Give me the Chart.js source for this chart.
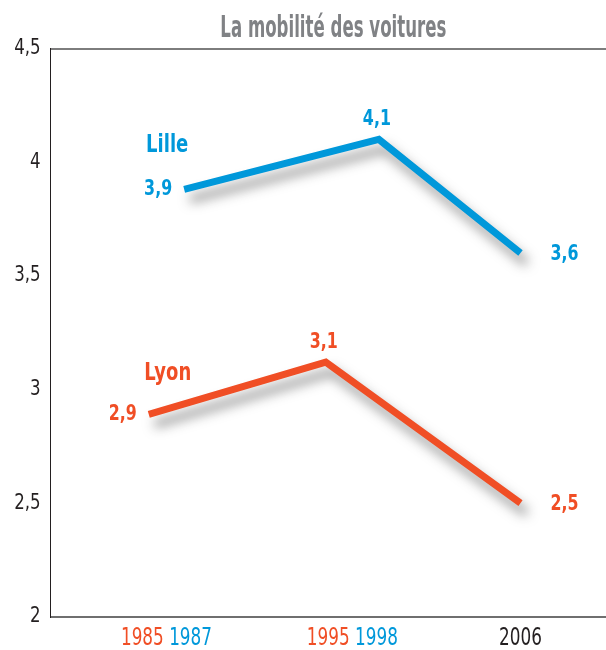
<!DOCTYPE html>
<html lang="fr">
<head>
<meta charset="utf-8">
<title>La mobilité des voitures</title>
<script src="https://cdn.jsdelivr.net/npm/chart.js@4.4.1/dist/chart.umd.min.js"></script>
<style>
  html, body { margin: 0; padding: 0; background: #fff; }
  #wrap { width: 606px; height: 650px; position: relative; }
</style>
</head>
<body>
<div id="wrap"><canvas id="chart"></canvas></div>
<script>
// Mobilité des voitures (déplacements / personne / jour) — Lille vs Lyon.
// The two surveys were not run the same years, so x is a linear year axis.

const TITLE = "La mobilité des voitures";

const lilleYears  = [1987, 1998, 2006];
const lilleValues = [3.88, 4.10, 3.60];
const lilleLabels = ["3,9", "4,1", "3,6"];

const lyonYears  = [1985, 1995, 2006];
const lyonValues = [2.89, 3.12, 2.50];
const lyonLabels = ["2,9", "3,1", "2,5"];

// x tick labels, grouped the way the original prints them ("1985 1987")
const tickYears  = [1985, 1987, 1995, 1998, 2006];
const tickGroups = [[0, 1], [2, 3], [4]];

const BLUE = "#0098da";
const RED = "#f04e25";
const INK = "#231f20";
const tickColors = [RED, BLUE, RED, BLUE, INK];

const FONT = '"Liberation Sans Narrow", "DejaVu Sans Condensed", "Roboto Condensed", sans-serif';
// the original uses a very condensed face; squeeze the glyphs horizontally
const SQUEEZE = 0.8;

// where each value label sits relative to its point
const LABEL_POS = ["left", "top", "right"];

const SERIES = [
  { name: "Lille", years: lilleYears, values: lilleValues, labels: lilleLabels,
    color: BLUE, nameDx: -17, nameDy: -44 },
  { name: "Lyon", years: lyonYears, values: lyonValues, labels: lyonLabels,
    color: RED, nameDx: 19, nameDy: -41 },
];

function squeezed(ctx, text, x, y, align, sq = SQUEEZE) {
  ctx.save();
  ctx.translate(x, y);
  ctx.scale(sq, 1);
  ctx.textAlign = align;
  ctx.fillText(text, 0, 0);
  ctx.restore();
}

// grey drop shadow under the two lines only
const shadowPlugin = {
  id: "lineShadow",
  beforeDatasetDraw(chart) {
    const ctx = chart.ctx;
    ctx.save();
    ctx.shadowColor = "rgba(40, 40, 40, 0.5)";
    ctx.shadowBlur = 12;
    ctx.shadowOffsetX = 6;
    ctx.shadowOffsetY = 10;
  },
  afterDatasetDraw(chart) {
    chart.ctx.restore();
  },
};

const annotatePlugin = {
  id: "annotate",
  afterDraw(chart) {
    const ctx = chart.ctx;
    const area = chart.chartArea;
    const x = chart.scales.x;
    const y = chart.scales.y;

    // title, fitted to the width of the condensed original
    ctx.save();
    ctx.font = `bold 30px ${FONT}`;
    ctx.fillStyle = "#808285";
    ctx.textBaseline = "alphabetic";
    const tw = ctx.measureText(TITLE).width;
    squeezed(ctx, TITLE, (area.left + area.right) / 2 + 5, 36.5, "center", Math.min(1, 226 / tw));
    ctx.restore();

    // y tick labels, from the scale's own ticks
    ctx.save();
    ctx.font = `21px ${FONT}`;
    ctx.fillStyle = INK;
    ctx.textBaseline = "middle";
    for (const t of y.ticks) {
      squeezed(ctx, String(t.value).replace(".", ","), area.left - 10,
        y.getPixelForValue(t.value), "right", 0.88);
    }
    ctx.restore();

    // value labels + series names
    SERIES.forEach((s, di) => {
      const pts = chart.getDatasetMeta(di).data;
      ctx.save();
      ctx.fillStyle = s.color;
      ctx.font = `bold 22px ${FONT}`;
      ctx.textBaseline = "middle";
      pts.forEach((p, i) => {
        const pos = LABEL_POS[i];
        if (pos === "left") squeezed(ctx, s.labels[i], p.x - 12, p.y, "right");
        else if (pos === "right") squeezed(ctx, s.labels[i], p.x + 30, p.y + 1, "left");
        else squeezed(ctx, s.labels[i], p.x - 2, p.y - 20, "center");
      });
      ctx.font = `bold 25px ${FONT}`;
      squeezed(ctx, s.name, pts[0].x + s.nameDx, pts[0].y + s.nameDy, "center");
      ctx.restore();
    });

    // year labels under the axis, each group centred under its points
    ctx.save();
    ctx.font = `24px ${FONT}`;
    ctx.textBaseline = "middle";
    const sq = 0.78;
    const space = ctx.measureText(" ").width * sq;
    const ty = area.bottom + 22;
    for (const g of tickGroups) {
      const texts = g.map((i) => String(tickYears[i]));
      const widths = texts.map((t) => ctx.measureText(t).width * sq);
      const total = widths.reduce((a, b) => a + b, 0) + space * (texts.length - 1);
      const mid = g.reduce((a, i) => a + x.getPixelForValue(tickYears[i]), 0) / g.length;
      let cx = mid - total / 2;
      g.forEach((i, k) => {
        ctx.fillStyle = tickColors[i];
        squeezed(ctx, texts[k], cx, ty, "left", sq);
        cx += widths[k] + space;
      });
    }
    ctx.restore();
  },
};

const datasets = SERIES.map((s) => ({
  label: s.name,
  data: s.years.map((yr, i) => ({ x: yr, y: s.values[i] })),
  borderColor: s.color,
  backgroundColor: s.color,
  borderWidth: 7,
  borderCapStyle: "butt",
  borderJoinStyle: "miter",
  tension: 0,
  fill: false,
  pointRadius: 0,
  pointHoverRadius: 0,
}));

new Chart(document.getElementById("chart").getContext("2d"), {
  type: "line",
  data: { datasets },
  options: {
    responsive: true,
    maintainAspectRatio: false,
    animation: false,
    layout: { padding: { top: 48.5, left: 0, right: 0, bottom: 0 } },
    plugins: {
      legend: { display: false },
      title: { display: false },
      tooltip: { enabled: false },
    },
    scales: {
      x: {
        type: "linear",
        min: 1979.46,
        max: 2010.83,
        grid: { display: false, drawTicks: false },
        border: { display: true, color: "#6f6f6f", width: 2 },
        ticks: { display: false },
        afterFit: (scale) => { scale.height = 33.3; },
      },
      y: {
        min: 2,
        max: 4.5,
        ticks: { stepSize: 0.5, display: false },
        grid: {
          drawTicks: false,
          lineWidth: 2,
          color: (ctx) => (ctx.tick && ctx.tick.value === 4.5 ? "#7d7d7d" : "rgba(0,0,0,0)"),
        },
        border: { display: true, color: INK, width: 1 },
        afterFit: (scale) => { scale.width = 50.7; },
      },
    },
  },
  plugins: [shadowPlugin, annotatePlugin],
});
</script>
</body>
</html>
